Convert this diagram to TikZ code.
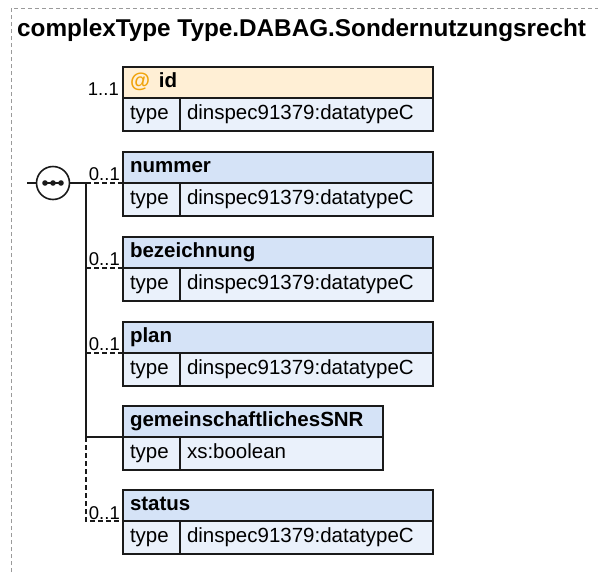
\documentclass[tikz,border=0pt]{standalone}
\usepackage{fontspec}
\setmainfont{Liberation Sans}
\definecolor{bd}{HTML}{1A1A1A}
\definecolor{hdrblue}{HTML}{D5E3F7}
\definecolor{cellblue}{HTML}{EAF1FB}
\definecolor{hdrorange}{HTML}{FFEFD5}
\definecolor{atorange}{HTML}{F0A30A}
\definecolor{framegray}{HTML}{9A9A9A}
\newcommand{\fsmain}{\fontsize{20.5}{24}\selectfont}
\newcommand{\fsmult}{\fontsize{18.5}{21}\selectfont}
\newcommand{\fstitle}{\fontsize{24.3}{28}\selectfont}
% #1 name, #2 x, #3 y top, #4 header text width, #5 header text, #6 value text width, #7 value, #8 header fill
\newcommand{\xsdbox}[8]{%
  \node[hdr, fill=#8, text width=#4, anchor=north west] (#1) at (#2,#3) {#5};
  \node[cell, text width=43, anchor=north west] (#1-tl) at (#1.south west) {type};
  \node[cell, text width=#6, anchor=north west] (#1-tv) at (#1-tl.north east) {#7};
}
\begin{document}
\begin{tikzpicture}[x=1pt,y=-1pt,
  hdr/.style={draw=bd, line width=1.8pt, outer sep=0pt, minimum height=31, inner xsep=7, inner ysep=0,
    text height=14, text depth=4, align=left, font=\fsmain\bfseries},
  cell/.style={draw=bd, line width=1.8pt, outer sep=0pt, fill=cellblue, minimum height=33, inner xsep=7, inner ysep=0,
    text height=14, text depth=4, align=left, font=\fsmain},
  mult/.style={font=\fsmult, inner sep=0, anchor=base east},
  ln/.style={draw=bd, line width=1.6pt},
  optln/.style={draw=bd, line width=1.6pt, dash pattern=on 5pt off 3pt},
  frame/.style={draw=framegray, line width=1pt, dash pattern=on 4pt off 3pt}]
\useasboundingbox (0,0) rectangle (598,574);
% outer frame
\draw[frame] (11,600) -- (11,8) -- (620,8);
% title
\node[font=\fstitle\bfseries, inner sep=0, anchor=base west] (title) at (17,36) {complexType Type.DABAG.Sondernutzungsrecht};
% attribute id
\xsdbox{id}{123}{67}{296}{{\color{atorange}@}\hspace{9pt}id}{239}{dinspec91379:datatypeC}{hdrorange}
\node[mult] (m-id) at (119,95) {1..1};
% sequence compositor
\node[circle, draw=bd, line width=1.6pt, fill=white, minimum size=33, inner sep=0] (seq) at (53,183) {};
\draw[ln] (43,183) -- (63,183);
\foreach \dx in {-8,0,8} \fill[bd] ([xshift=\dx]seq.center) circle (2.8);
\coordinate (seqin) at (27,183);
\coordinate (spine) at (86,183);
\draw[ln] (seqin) -- (seq.west);
\draw[ln] (seq.east) -- (spine);
% elements
\xsdbox{nummer}{123}{152}{296}{nummer}{239}{dinspec91379:datatypeC}{hdrblue}
\xsdbox{bez}{123}{237}{296}{bezeichnung}{239}{dinspec91379:datatypeC}{hdrblue}
\xsdbox{plan}{123}{322}{296}{plan}{239}{dinspec91379:datatypeC}{hdrblue}
\xsdbox{gem}{123}{406}{246}{gemeinschaftlichesSNR}{189}{xs:boolean}{hdrblue}
\xsdbox{status}{123}{490}{296}{status}{239}{dinspec91379:datatypeC}{hdrblue}
% multiplicities
\node[mult] (m-nummer) at (120,180) {0..1};
\node[mult] (m-bez) at (120,265) {0..1};
\node[mult] (m-plan) at (120,350) {0..1};
\node[mult] (m-status) at (120,519) {0..1};
% connectors
\draw[ln] (spine) -- (spine |- gem.south west);
\draw[optln] (spine) -- (nummer.south west);
\draw[optln] (spine |- bez.south west) -- (bez.south west);
\draw[optln] (spine |- plan.south west) -- (plan.south west);
\draw[ln] (spine |- gem.south west) -- (gem.south west);
\draw[optln] (spine |- gem.south west) -- (spine |- status.south west) -- (status.south west);
\end{tikzpicture}
\end{document}
